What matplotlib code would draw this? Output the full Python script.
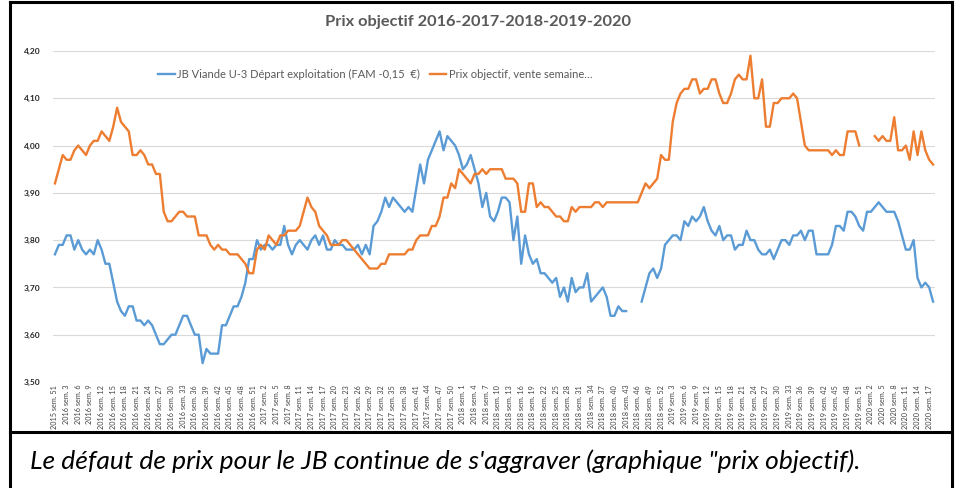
import numpy as np
import matplotlib
matplotlib.use("Agg")
import matplotlib.pyplot as plt
from matplotlib.lines import Line2D

# Weekly series, first point = 2015 sem. 51, last point = 2020 sem. 18
jb_viande = [
    3.77, 3.79, 3.79, 3.81, 3.81, 3.78, 3.80, 3.78, 3.77, 3.78,
    3.77, 3.80, 3.78, 3.75, 3.75, 3.71, 3.67, 3.65, 3.64, 3.66,
    3.66, 3.63, 3.63, 3.62, 3.63, 3.62, 3.60, 3.58, 3.58, 3.59,
    3.60, 3.60, 3.62, 3.64, 3.64, 3.62, 3.60, 3.60, 3.54, 3.57,
    3.56, 3.56, 3.56, 3.62, 3.62, 3.64, 3.66, 3.66, 3.68, 3.71,
    3.76, 3.76, 3.80, 3.78, 3.79, 3.79, 3.78, 3.79, 3.79, 3.83,
    3.79, 3.77, 3.79, 3.80, 3.79, 3.78, 3.80, 3.81, 3.79, 3.81,
    3.78, 3.78, 3.80, 3.79, 3.79, 3.78, 3.78, 3.78, 3.79, 3.77,
    3.79, 3.77, 3.83, 3.84, 3.86, 3.89, 3.87, 3.89, 3.88, 3.87,
    3.86, 3.87, 3.86, 3.91, 3.96, 3.92, 3.97, 3.99, 4.01, 4.03,
    3.99, 4.02, 4.01, 4.00, 3.98, 3.95, 3.96, 3.98, 3.95, 3.92,
    3.87, 3.90, 3.85, 3.84, 3.86, 3.89, 3.89, 3.88, 3.80, 3.85,
    3.75, 3.81, 3.77, 3.75, 3.76, 3.73, 3.73, 3.72, 3.71, 3.72,
    3.68, 3.70, 3.67, 3.72, 3.69, 3.70, 3.70, 3.73, 3.67, 3.68,
    3.69, 3.70, 3.68, 3.64, 3.64, 3.66, 3.65, 3.65, None, None,
    None, 3.67, 3.70, 3.73, 3.74, 3.72, 3.74, 3.79, 3.80, 3.81,
    3.81, 3.80, 3.84, 3.83, 3.85, 3.84, 3.85, 3.87, 3.84, 3.82,
    3.81, 3.83, 3.80, 3.81, 3.81, 3.78, 3.79, 3.79, 3.82, 3.80,
    3.80, 3.78, 3.77, 3.77, 3.78, 3.76, 3.78, 3.80, 3.80, 3.79,
    3.81, 3.81, 3.82, 3.80, 3.82, 3.82, 3.77, 3.77, 3.77, 3.77,
    3.79, 3.83, 3.83, 3.82, 3.86, 3.86, 3.85, 3.83, 3.82, 3.86,
    3.86, 3.87, 3.88, 3.87, 3.86, 3.86, 3.86, 3.84, 3.81, 3.78,
    3.78, 3.80, 3.72, 3.70, 3.71, 3.70, 3.67,
]

prix_objectif = [
    3.92, 3.95, 3.98, 3.97, 3.97, 3.99, 4.00, 3.99, 3.98, 4.00,
    4.01, 4.01, 4.03, 4.02, 4.01, 4.04, 4.08, 4.05, 4.04, 4.03,
    3.98, 3.98, 3.99, 3.98, 3.96, 3.96, 3.94, 3.94, 3.86, 3.84,
    3.84, 3.85, 3.86, 3.86, 3.85, 3.85, 3.85, 3.81, 3.81, 3.81,
    3.79, 3.78, 3.79, 3.78, 3.78, 3.77, 3.77, 3.77, 3.76, 3.75,
    3.73, 3.73, 3.78, 3.79, 3.78, 3.81, 3.80, 3.79, 3.81, 3.81,
    3.82, 3.82, 3.82, 3.83, 3.86, 3.89, 3.87, 3.86, 3.83, 3.82,
    3.81, 3.79, 3.79, 3.79, 3.80, 3.80, 3.79, 3.78, 3.77, 3.76,
    3.75, 3.74, 3.74, 3.74, 3.75, 3.75, 3.77, 3.77, 3.77, 3.77,
    3.77, 3.78, 3.78, 3.80, 3.81, 3.81, 3.81, 3.83, 3.83, 3.85,
    3.89, 3.89, 3.92, 3.91, 3.95, 3.94, 3.93, 3.92, 3.94, 3.94,
    3.95, 3.94, 3.95, 3.95, 3.95, 3.95, 3.93, 3.93, 3.93, 3.92,
    3.86, 3.86, 3.92, 3.92, 3.87, 3.88, 3.87, 3.87, 3.86, 3.85,
    3.85, 3.84, 3.84, 3.87, 3.86, 3.87, 3.87, 3.87, 3.87, 3.88,
    3.88, 3.87, 3.88, 3.88, 3.88, 3.88, 3.88, 3.88, 3.88, 3.88,
    3.88, 3.90, 3.92, 3.91, 3.92, 3.93, 3.98, 3.97, 3.97, 4.05,
    4.09, 4.11, 4.12, 4.12, 4.14, 4.14, 4.11, 4.12, 4.12, 4.14,
    4.14, 4.11, 4.09, 4.09, 4.11, 4.14, 4.15, 4.14, 4.14, 4.19,
    4.10, 4.10, 4.14, 4.04, 4.04, 4.09, 4.09, 4.10, 4.10, 4.10,
    4.11, 4.10, 4.05, 4.00, 3.99, 3.99, 3.99, 3.99, 3.99, 3.99,
    3.98, 3.99, 3.98, 3.98, 4.03, 4.03, 4.03, 4.00, None, None,
    None, 4.02, 4.01, 4.02, 4.01, 4.01, 4.06, 3.99, 3.99, 4.00,
    3.97, 4.03, 3.98, 4.03, 3.99, 3.97, 3.96,
]

# tick labels (every third week)
weeks_2016 = [3, 6, 9, 12, 15, 18, 21, 24, 27, 30, 33, 36, 39, 42, 45, 48, 51]
weeks_2017 = [2, 5, 8, 11, 14, 17, 20, 23, 26, 29, 32, 35, 38, 41, 44, 47, 50]
weeks_2018 = [1, 4, 7, 10, 13, 16, 19, 22, 25, 28, 31, 34, 37, 40, 43, 46, 49, 52]
weeks_2019 = [3, 6, 9, 12, 15, 18, 21, 24, 27, 30, 33, 36, 39, 42, 45, 48, 51]
weeks_2020 = [2, 5, 8, 11, 14, 17]

tick_labels = ["2015 sem. 51"]
for year, weeks in [(2016, weeks_2016), (2017, weeks_2017), (2018, weeks_2018),
                    (2019, weeks_2019), (2020, weeks_2020)]:
    tick_labels += [f"{year} sem. {w}" for w in weeks]

title = "Prix objectif 2016-2017-2018-2019-2020"
legend_labels = ["JB Viande U-3 Départ exploitation (FAM -0,15  €)",
                 "Prix objectif, vente semaine…"]
caption = "Le défaut de prix pour le JB continue de s'aggraver (graphique \"prix objectif)."

blue = "#5B9BD5"
orange = "#ED7D31"

plt.rcParams['font.family'] = ['Lato', 'DejaVu Sans']

W, H = 957, 488
fig = plt.figure(figsize=(W / 100, H / 100), dpi=100)
ax = fig.add_axes([53 / W, 1 - 382 / H, (935 - 53) / W, (382 - 51) / H])

y1 = np.array(jb_viande, dtype=float)
y2 = np.array(prix_objectif, dtype=float)
x = np.arange(len(y1))

ax.plot(x, y1, color=blue, lw=1.7, label=legend_labels[0])
ax.plot(x, y2, color=orange, lw=1.7, label=legend_labels[1])

ax.set_xlim(-0.5, len(x) - 0.5)
ax.set_ylim(3.5, 4.2)
yt = np.arange(3.5, 4.21, 0.1)
ax.set_yticks(yt)
ax.set_yticklabels([f"{v:.2f}".replace(".", ",") for v in yt],
                   fontsize=6, fontweight="bold", color="#262626")
ax.set_xticks(np.arange(0, len(x), 3))
ax.set_xticklabels(tick_labels, rotation=90, fontsize=5.2, color="#404040")
ax.tick_params(length=0, pad=2)
ax.tick_params(axis="y", pad=9)
ax.grid(axis="y", color="#D9D9D9", lw=0.8)
ax.set_axisbelow(True)
for s in ax.spines.values():
    s.set_visible(False)

fig.text(478 / W, 1 - 22 / H, title, ha="center", va="center",
         fontsize=11.8, fontweight="bold", color="#595959")

fig.legend(loc="center left", bbox_to_anchor=(158 / W, 1 - 74 / H),
           ncol=2, frameon=False, fontsize=8, handlelength=1.5,
           handletextpad=0.2, columnspacing=0.9, borderpad=0,
           borderaxespad=0, labelcolor="#595959")

fig.text(30 / W, 1 - 461 / H, caption, ha="left", va="center",
         fontsize=19, style="italic", color="#000000")

# black frames around chart and caption box
frame = dict(color="black", lw=2.2, transform=fig.transFigure)
fig.add_artist(Line2D([10 / W, 10 / W], [0, 1 - 2 / H], **frame))
fig.add_artist(Line2D([952 / W, 952 / W], [0, 1 - 2 / H], **frame))
fig.add_artist(Line2D([10 / W, 952 / W], [1 - 2 / H, 1 - 2 / H], **frame))
fig.add_artist(Line2D([10 / W, 952 / W], [1 - 432 / H, 1 - 432 / H], **frame))

fig.savefig("out.png", dpi=100)
